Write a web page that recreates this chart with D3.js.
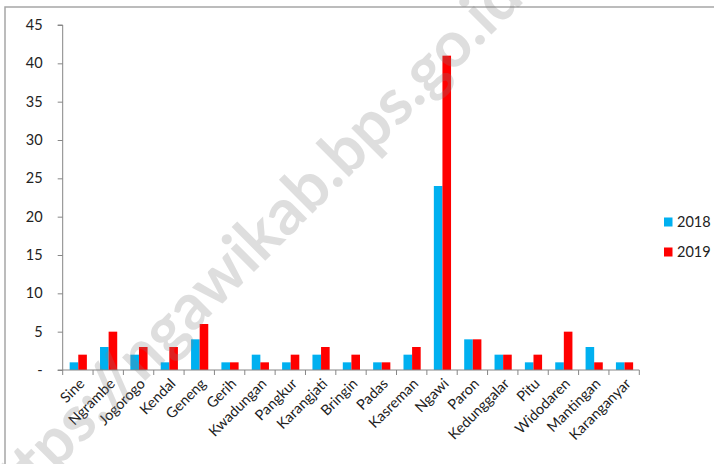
<!DOCTYPE html>
<html>
<head>
<meta charset="utf-8">
<script src="https://cdn.jsdelivr.net/npm/d3@7"></script>
<style>
  html, body { margin: 0; padding: 0; background: #fff; }
  svg { display: block; }
  text { font-family: Lato, "Open Sans", sans-serif; fill: #222; }
</style>
</head>
<body>
<svg id="chart" width="714" height="464"></svg>
<script>
const categories = ["Sine","Ngrambe","Jogorogo","Kendal","Geneng","Gerih","Kwadungan","Pangkur","Karangjati","Bringin","Padas","Kasreman","Ngawi","Paron","Kedunggalar","Pitu","Widodaren","Mantingan","Karanganyar"];
const series2018 = [1,3,2,1,4,1,2,1,2,1,1,2,24,4,2,1,1,3,1];
const series2019 = [2,5,3,3,6,1,1,2,3,2,1,3,41,4,2,2,5,1,1];
const seriesNames = ["2018","2019"];
const seriesColors = ["#00B0F0","#FF0000"];
const yTicks = [0,5,10,15,20,25,30,35,40,45];
const watermark = "https://ngawikab.bps.go.id";

(function(){
const svg = d3.select("#chart");
const pl = 62.7, pr = 639.3, pt = 25, pb = 370;

// outer frame
svg.append("rect").attr("x",5).attr("y",7).attr("width",760).attr("height",520)
  .attr("fill","none").attr("stroke","#a6a6a6").attr("stroke-width",1.5);

const x = d3.scaleBand().domain(categories).range([pl,pr]).paddingInner(0).paddingOuter(0);
const y = d3.scaleLinear().domain([0,45]).range([pb,pt]);
const inner = d3.scaleBand().domain(seriesNames).range([0,17.2]);

const data = categories.map((c,i)=>({cat:c, vals:[series2018[i], series2019[i]]}));

const groups = svg.append("g").selectAll("g").data(data).join("g")
  .attr("transform", d => `translate(${x(d.cat) + x.bandwidth()/2 - 8.2},0)`);
groups.selectAll("rect").data(d => d.vals.map((v,k)=>({v, k})))
  .join("rect")
  .attr("x", d => inner(seriesNames[d.k]))
  .attr("width", inner.bandwidth())
  .attr("y", d => y(d.v))
  .attr("height", d => pb - y(d.v))
  .attr("fill", d => seriesColors[d.k]);

// y axis
const yAxis = d3.axisLeft(y).tickValues(yTicks).tickSize(5).tickPadding(15)
  .tickFormat(d => d === 0 ? "-" : d);
const ya = svg.append("g").attr("transform",`translate(${pl},0)`).call(yAxis);
ya.select(".domain").attr("stroke","#868686").attr("d",`M-5,${pt}H0V${pb}H-5`);
ya.selectAll(".tick line").attr("stroke","#868686");
ya.selectAll(".tick text").attr("font-size",14.5).attr("fill","#222")
  .attr("font-family","Lato, 'Open Sans', sans-serif");

// x axis
const xa = svg.append("g").attr("transform",`translate(0,${pb})`);
xa.append("line").attr("x1",pl).attr("x2",pr).attr("y1",0).attr("y2",0).attr("stroke","#868686");
const bounds = categories.map(c => x(c)).concat([pr]);
xa.selectAll("line.t").data(bounds).join("line").attr("class","t")
  .attr("x1",d=>d).attr("x2",d=>d).attr("y1",0).attr("y2",5).attr("stroke","#868686");
xa.selectAll("text").data(categories).join("text")
  .attr("transform", d => `translate(${x(d)+x.bandwidth()/2+4},11) rotate(-45)`)
  .attr("text-anchor","end").attr("dy","0.35em").attr("font-size",14.5).text(d=>d);

// legend
const lg = svg.append("g");
seriesNames.forEach((n,i)=>{
  const cy = 222 + i*30;
  lg.append("rect").attr("x",664).attr("y",cy-4.5).attr("width",8.5).attr("height",9).attr("fill",seriesColors[i]);
  lg.append("text").attr("x",677).attr("y",cy).attr("dy","0.35em").attr("font-size",14.5).text(n);
});

// watermark
svg.append("text").attr("transform","translate(-2,528) rotate(-45)")
  .attr("font-family","'Liberation Sans', Arial, sans-serif").attr("font-weight","bold")
  .attr("font-size",64).style("fill","#7f7f7f").attr("fill-opacity",0.26)
  .text(watermark);
})();
</script>
</body>
</html>
